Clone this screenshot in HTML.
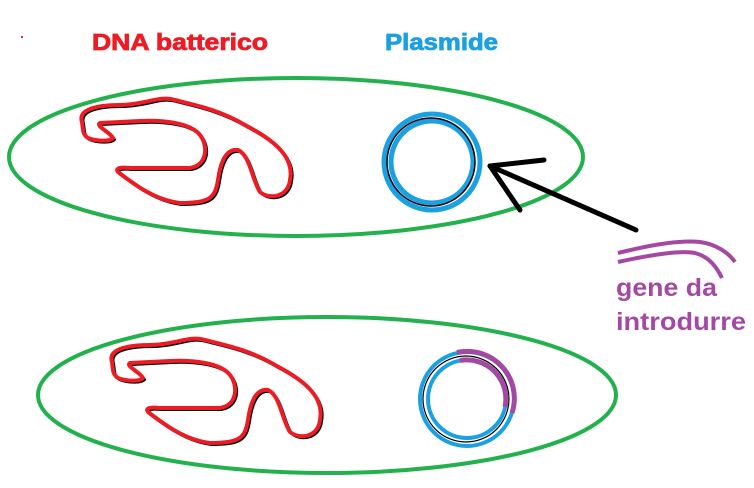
<!DOCTYPE html>
<html><head><meta charset="utf-8"><style>
html,body{margin:0;padding:0;background:#fff;width:754px;height:488px;overflow:hidden}
svg{display:block}
text{font-family:"Liberation Sans",sans-serif;font-weight:bold}
</style></head><body>
<svg width="754" height="488" viewBox="0 0 754 488" xmlns="http://www.w3.org/2000/svg">
<defs>
<path id="dna" d="M112,362 C108,350 125,345 150,345 C175,345 190,335 205,340 C225,345 250,350 275,365 C300,378 325,395 320,420 C318,437 300,440 290,432 C282,420 280,395 268,390 C255,388 250,405 248,420 C245,438 240,443 210,443 C185,440 165,425 148,412 C145,408 150,407 160,408 L220,408 C238,405 238,385 230,375 C220,362 190,360 170,361 L130,363 C125,366 140,372 143,378 C140,382 125,381 118,378 C112,374 113,368 112,362 Z"/>
</defs>
<circle cx="22" cy="37" r="1" fill="#a00"/>
<text x="92" y="50" font-size="23" fill="#ed1c24" stroke="#ed1c24" stroke-width="0.8" textLength="176" lengthAdjust="spacingAndGlyphs">DNA batterico</text>
<text x="385" y="50" font-size="23" fill="#1ba0e2" stroke="#1ba0e2" stroke-width="0.8" textLength="113" lengthAdjust="spacingAndGlyphs">Plasmide</text>
<ellipse cx="296" cy="157" rx="287" ry="79" fill="none" stroke="#22b14c" stroke-width="4"/>
<ellipse cx="327" cy="395" rx="289" ry="78" fill="none" stroke="#22b14c" stroke-width="4"/>
<g transform="translate(-30,-240)">
<use href="#dna" fill="none" stroke="#000" stroke-width="3" transform="translate(1.5,1.5)"/>
<use href="#dna" fill="none" stroke="#ed1c24" stroke-width="4"/>
</g>
<use href="#dna" fill="none" stroke="#000" stroke-width="3" transform="translate(1.5,1.5)"/>
<use href="#dna" fill="none" stroke="#ed1c24" stroke-width="4"/>
<circle cx="432" cy="162" r="48" fill="none" stroke="#1ba0e2" stroke-width="5"/>
<circle cx="432" cy="162" r="41" fill="none" stroke="#1ba0e2" stroke-width="5"/>
<circle cx="431" cy="162" r="44" fill="none" stroke="#000" stroke-width="1.5"/>
<circle cx="467" cy="399" r="47" fill="none" stroke="#1ba0e2" stroke-width="4"/>
<circle cx="467" cy="399" r="39" fill="none" stroke="#1ba0e2" stroke-width="4"/>
<circle cx="466" cy="399" r="43" fill="none" stroke="#000" stroke-width="1.2"/>
<path d="M457,352.5 A47,47 0 0 1 512,413" fill="none" stroke="#a349a4" stroke-width="5"/>
<path d="M460,360.5 A39,39 0 0 1 505,407" fill="none" stroke="#a349a4" stroke-width="5"/>
<g stroke="#000" stroke-width="5" stroke-linecap="round" fill="none">
<line x1="636" y1="230" x2="490" y2="166"/>
<line x1="490" y1="166" x2="544" y2="160"/>
<line x1="490" y1="166" x2="520" y2="210"/>
</g>
<g stroke="#a349a4" stroke-width="4" fill="none">
<path d="M618,253 C650,245 680,240 700,242 C715,244 728,252 735,262"/>
<path d="M618,262 C650,255 680,250 695,253 C710,257 717,268 722,278"/>
</g>
<text x="616" y="296" font-size="25" fill="#a349a4" textLength="101" lengthAdjust="spacingAndGlyphs">gene da</text>
<text x="616" y="330" font-size="25" fill="#a349a4" textLength="130" lengthAdjust="spacingAndGlyphs">introdurre</text>
</svg>
</body></html>
